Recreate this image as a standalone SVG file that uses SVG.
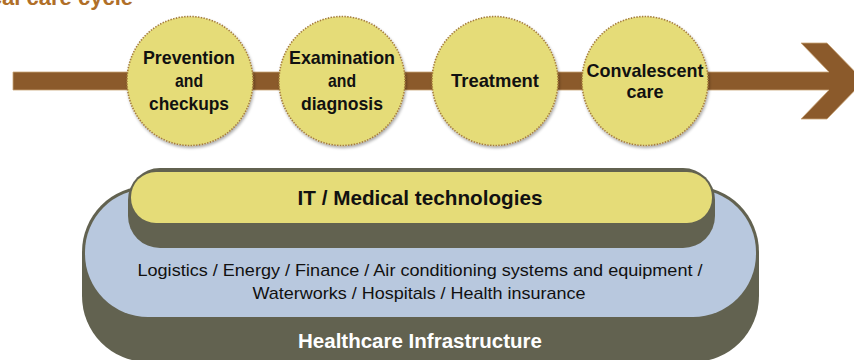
<svg xmlns="http://www.w3.org/2000/svg" width="854" height="360" viewBox="0 0 854 360">
<defs>
<style>
.title{font-family:"Liberation Sans",Arial,sans-serif;font-weight:bold;font-size:22px;fill:#b06f28}
.ct{font-family:"Liberation Sans",Arial,sans-serif;font-weight:bold;font-size:19px;fill:#111;text-anchor:middle}
.circ{fill:#e5dc78;stroke:#a57c3c;stroke-width:1.6;stroke-dasharray:1.4 1.4}
.it{font-family:"Liberation Sans",Arial,sans-serif;font-weight:bold;font-size:21px;fill:#111;text-anchor:middle}
.lt{font-family:"Liberation Sans",Arial,sans-serif;font-size:17px;fill:#111;text-anchor:middle}
.hi{font-family:"Liberation Sans",Arial,sans-serif;font-weight:bold;font-size:20px;fill:#ffffff;text-anchor:middle}
</style>
<filter id="sh" x="-20%" y="-20%" width="140%" height="140%">
<feGaussianBlur in="SourceAlpha" stdDeviation="1.5"/>
<feOffset dx="1" dy="1.5"/>
<feComponentTransfer><feFuncA type="linear" slope="0.35"/></feComponentTransfer>
<feMerge><feMergeNode/><feMergeNode in="SourceGraphic"/></feMerge>
</filter>
</defs>
<rect width="854" height="360" fill="#ffffff"/>
<text class="title" x="133" y="5" text-anchor="end">Medical care cycle</text>

<g id="connectors">
<polygon points="13,72 829,72 801,43 827,43 864,81 827,119 801,119 829,90 13,90" fill="#8b5a2b" stroke="#c9a577" stroke-width="0.8"/>
</g>

<g id="node-prevention">
<ellipse class="circ" cx="190" cy="81" rx="63" ry="64.5" filter="url(#sh)"/>
<text class="ct" x="189" y="64" textLength="92" lengthAdjust="spacingAndGlyphs">Prevention</text>
<text class="ct" x="189" y="87" textLength="28" lengthAdjust="spacingAndGlyphs">and</text>
<text class="ct" x="189" y="110" textLength="80" lengthAdjust="spacingAndGlyphs">checkups</text>
</g>
<g id="node-examination">
<ellipse class="circ" cx="342" cy="81" rx="63" ry="64.5" filter="url(#sh)"/>
<text class="ct" x="342" y="64" textLength="106" lengthAdjust="spacingAndGlyphs">Examination</text>
<text class="ct" x="342" y="87" textLength="28" lengthAdjust="spacingAndGlyphs">and</text>
<text class="ct" x="342" y="110" textLength="82" lengthAdjust="spacingAndGlyphs">diagnosis</text>
</g>
<g id="node-treatment">
<ellipse class="circ" cx="495" cy="81" rx="63" ry="64.5" filter="url(#sh)"/>
<text class="ct" x="495" y="87" textLength="88" lengthAdjust="spacingAndGlyphs">Treatment</text>
</g>
<g id="node-convalescent">
<ellipse class="circ" cx="645" cy="81" rx="63" ry="64.5" filter="url(#sh)"/>
<text class="ct" x="645" y="77" textLength="117" lengthAdjust="spacingAndGlyphs">Convalescent</text>
<text class="ct" x="645" y="98" textLength="37" lengthAdjust="spacingAndGlyphs">care</text>
</g>

<g id="node-infrastructure">
<rect x="82" y="186" width="677" height="176" rx="66" ry="66" fill="#626250"/>
<rect x="85" y="189" width="671" height="128" rx="63" ry="63" fill="#b8c8de"/>
<text class="lt" x="420" y="276" textLength="565" lengthAdjust="spacingAndGlyphs">Logistics / Energy / Finance / Air conditioning systems and equipment /</text>
<text class="lt" x="419" y="299" textLength="333" lengthAdjust="spacingAndGlyphs">Waterworks / Hospitals / Health insurance</text>
<text class="hi" x="420" y="348" textLength="244" lengthAdjust="spacingAndGlyphs">Healthcare Infrastructure</text>
</g>

<g id="node-it">
<rect x="128" y="168" width="587" height="80" rx="32" ry="32" fill="#626250"/>
<rect x="131" y="172" width="581" height="51" rx="25" ry="25" fill="#e5dc78"/>
<text class="it" x="420" y="205" textLength="245" lengthAdjust="spacingAndGlyphs">IT / Medical technologies</text>
</g>
</svg>
